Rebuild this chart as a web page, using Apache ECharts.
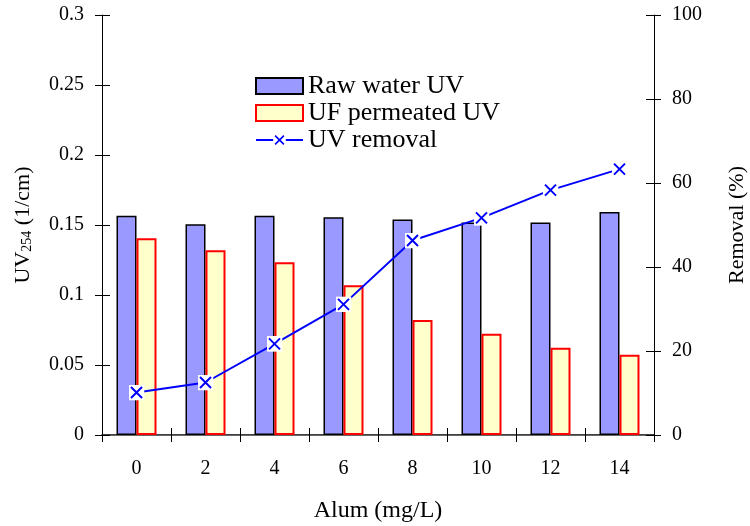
<!DOCTYPE html>
<html>
<head>
<meta charset="utf-8">
<script src="https://cdn.jsdelivr.net/npm/echarts@6/dist/echarts.min.js"></script>
<style>
html,body{margin:0;padding:0;background:#fff;}
#chart{width:750px;height:526px;}
</style>
</head>
<body>
<div id="chart"></div>
<script>
var categories = ['0', '2', '4', '6', '8', '10', '12', '14'];
var rawWaterUV = [0.1566, 0.1505, 0.1566, 0.1555, 0.1540, 0.1517, 0.1517, 0.1593];
var ufPermeatedUV = [0.1405, 0.1320, 0.1234, 0.1070, 0.0821, 0.0724, 0.0624, 0.0574];
var uvRemoval = [10.1, 12.5, 21.7, 31.1, 46.3, 51.7, 58.3, 63.3];

var FONT = "'Liberation Serif', 'Times New Roman', serif";
var svg = "<svg xmlns='http://www.w3.org/2000/svg' width='16' height='16'>" +
  "<rect x='0' y='0' width='16' height='16' fill='white'/>" +
  "<path d='M2.5,2.5L13.5,13.5M13.5,2.5L2.5,13.5' stroke='#0000FF' stroke-width='2' fill='none'/></svg>";
var xSymbol = 'image://data:image/svg+xml;charset=utf-8,' + encodeURIComponent(svg);

var chart = echarts.init(document.getElementById('chart'), null, {renderer: 'canvas'});

var tickLabel = {color: '#000', fontFamily: FONT, fontSize: 20};

var option = {
  animation: false,
  backgroundColor: '#fff',
  grid: {left: 102, right: 96, top: 15, bottom: 91, containLabel: false, outerBoundsMode: 'none'},
  legend: {
    orient: 'vertical',
    left: 255,
    top: 73,
    itemWidth: 47,
    itemHeight: 16,
    itemGap: 1,
    padding: 0,
    textStyle: {color: '#000', fontFamily: FONT, fontSize: 26, lineHeight: 26},
    data: [
      {name: 'Raw water UV', icon: 'rect'},
      {name: 'UF permeated UV', icon: 'rect'},
      {name: 'UV removal'}
    ]
  },
  xAxis: [
    {
      type: 'category', position: 'bottom', data: categories, boundaryGap: true,
      axisLine: {lineStyle: {color: '#000', width: 1.5}},
      axisTick: {show: true, inside: false, length: 7, lineStyle: {color: '#000'}},
      axisLabel: Object.assign({margin: 24}, tickLabel),
      splitLine: {show: false},
      name: 'Alum (mg/L)', nameLocation: 'middle', nameGap: 64,
      nameTextStyle: {color: '#000', fontFamily: FONT, fontSize: 24}
    },
    {
      type: 'category', position: 'top', data: categories, boundaryGap: true,
      axisLine: {lineStyle: {color: '#666', width: 1}},
      axisTick: {show: false}, axisLabel: {show: false}, splitLine: {show: false}
    },
    {
      type: 'category', position: 'bottom', data: categories, boundaryGap: true,
      axisLine: {show: false},
      axisTick: {show: true, inside: true, length: 7, lineStyle: {color: '#000'}},
      axisLabel: {show: false}, splitLine: {show: false}
    }
  ],
  yAxis: [
    {
      type: 'value', position: 'left', min: 0, max: 0.3, interval: 0.05,
      axisLine: {show: true, lineStyle: {color: '#000', width: 1}},
      axisTick: {show: true, inside: false, length: 7, lineStyle: {color: '#000'}},
      axisLabel: Object.assign({margin: 18}, tickLabel),
      splitLine: {show: false},
      name: '{a|UV}{s|254}{a| (1/cm)}', nameLocation: 'middle', nameRotate: 90, nameGap: 68,
      nameTextStyle: {
        color: '#000', fontFamily: FONT,
        rich: {
          a: {fontFamily: FONT, fontSize: 22, color: '#000', lineHeight: 26, verticalAlign: 'bottom'},
          s: {fontFamily: FONT, fontSize: 14, color: '#000', lineHeight: 20, verticalAlign: 'bottom'}
        }
      }
    },
    {
      type: 'value', position: 'right', min: 0, max: 100, interval: 20,
      axisLine: {show: true, lineStyle: {color: '#000', width: 1}},
      axisTick: {show: true, inside: false, length: 7, lineStyle: {color: '#000'}},
      axisLabel: Object.assign({margin: 18}, tickLabel),
      splitLine: {show: false},
      name: 'Removal (%)', nameLocation: 'middle', nameRotate: 90, nameGap: 72,
      nameTextStyle: {color: '#000', fontFamily: FONT, fontSize: 22}
    },
    {
      type: 'value', position: 'left', min: 0, max: 0.3, interval: 0.05,
      axisLine: {show: false},
      axisTick: {show: true, inside: true, length: 8, lineStyle: {color: '#000'}},
      axisLabel: {show: false}, splitLine: {show: false}
    },
    {
      type: 'value', position: 'right', min: 0, max: 100, interval: 20,
      axisLine: {show: false},
      axisTick: {show: true, inside: true, length: 8, lineStyle: {color: '#000'}},
      axisLabel: {show: false}, splitLine: {show: false}
    }
  ],
  series: [
    {
      name: 'Raw water UV', type: 'bar', xAxisIndex: 0, yAxisIndex: 0,
      data: rawWaterUV, barWidth: 20, barGap: '0%',
      itemStyle: {color: '#9999FF', borderColor: '#000', borderWidth: 1.5}
    },
    {
      name: 'UF permeated UV', type: 'bar', xAxisIndex: 0, yAxisIndex: 0,
      data: ufPermeatedUV, barWidth: 20, barGap: '0%',
      itemStyle: {color: '#FFFFCC', borderColor: '#FF0000', borderWidth: 2}
    },
    {
      name: 'UV removal', type: 'line', xAxisIndex: 0, yAxisIndex: 1,
      data: uvRemoval, symbol: xSymbol, symbolSize: 16, showSymbol: true,
      lineStyle: {color: '#0000FF', width: 2},
      itemStyle: {color: '#0000FF'},
      z: 5
    }
  ]
};
chart.setOption(option);
</script>
</body>
</html>
